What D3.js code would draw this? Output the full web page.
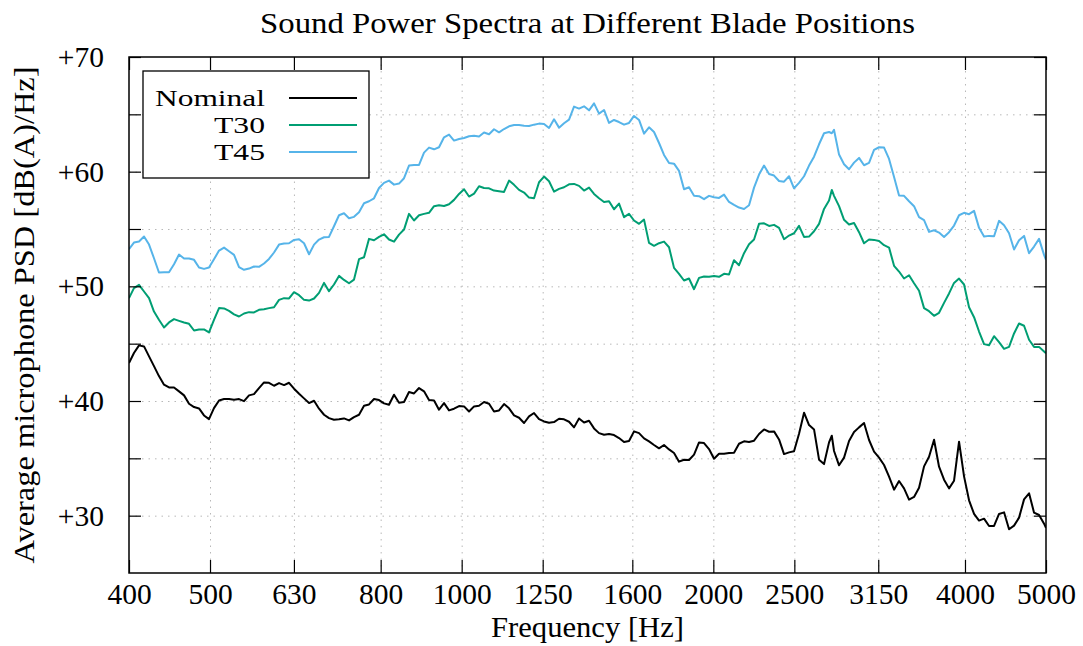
<!DOCTYPE html>
<html><head><meta charset="utf-8">
<script src="https://cdn.jsdelivr.net/npm/d3@7"></script>
<style>
html,body{margin:0;padding:0;background:#fff;}
svg{display:block;}
svg text{font-family:"Liberation Serif","Times New Roman",serif !important;fill:#000;}
</style></head><body>
<svg id="chart" width="1083" height="646"></svg>
<script>
// Frequencies (Hz) at which the curves were read
const freqs = [400,405.5,411.2,416.9,422.7,428.5,434.4,440.5,446.6,452.8,459.1,465.5,471.9,478.5,485.1,491.8,498.6,505.5,512.6,519.7,526.9,534.2,541.6,549.1,556.7,564.4,572.2,580.2,588.2,596.4,604.7,613.1,621.6,630.2,639.0,647.8,656.8,665.9,675.1,684.5,693.9,703.5,713.3,723.2,733.2,743.4,753.7,764.2,774.8,785.5,796.4,807.4,818.6,830.0,841.5,853.2,865.0,877.0,889.2,901.5,914.0,926.7,939.5,952.6,965.8,979.2,992.8,1006.6,1020.5,1034.7,1049.0,1063.5,1078.3,1093.2,1108.4,1123.8,1139.4,1155.2,1171.2,1187.5,1203.9,1220.6,1237.5,1254.7,1272.1,1289.7,1307.6,1325.7,1344.1,1362.7,1381.6,1400.8,1420.2,1439.9,1459.9,1480.1,1500.6,1521.4,1542.5,1563.9,1585.6,1607.6,1629.9,1652.5,1675.4,1698.6,1722.2,1746.0,1770.3,1794.8,1819.7,1844.9,1870.5,1896.5,1922.8,1949.4,1976.4,2003.9,2031.6,2059.8,2088.4,2117.4,2146.7,2176.5,2206.7,2237.3,2268.3,2299.8,2331.7,2364.0,2396.8,2430.0,2463.7,2497.9,2532.5,2567.7,2603.3,2639.4,2676.0,2713.1,2750.7,2771.7,2788.8,2827.6,2866.8,2906.5,2946.8,2987.7,3029.1,3071.1,3113.7,3156.9,3200.7,3245.1,3290.1,3335.7,3381.9,3428.8,3476.4,3524.6,3573.5,3623.0,3673.3,3724.2,3775.9,3828.2,3881.3,3935.1,3989.7,4045.0,4101.2,4158.0,4215.7,4274.1,4333.4,4393.5,4454.4,4516.2,4578.8,4642.3,4706.7,4772.0,4838.2,4905.3,4973.3,5000];

// Average microphone PSD, dB(A)/Hz
const nominal = [43.31,44.18,44.85,44.76,43.89,43.04,42.17,41.42,41.18,41.18,40.84,40.49,39.76,39.47,39.35,38.74,38.42,39.38,40.05,40.17,40.17,40.11,40.17,39.99,40.49,40.60,41.13,41.62,41.59,41.33,41.56,41.39,41.59,41.07,40.63,40.23,39.82,40.02,39.33,38.80,38.51,38.37,38.40,38.48,38.31,38.60,38.80,39.59,
39.70,40.17,40.08,39.79,39.67,40.55,39.85,39.91,40.78,40.66,41.13,40.84,40.08,40.05,39.24,39.82,39.18,39.33,39.56,39.53,39.09,39.53,39.59,39.91,39.76,39.09,39.18,39.73,39.36,38.74,38.54,38.08,38.66,38.95,38.42,38.22,38.10,38.16,38.45,38.40,38.19,37.70,38.48,38.13,38.28,37.61,
37.20,37.06,37.12,37.03,36.77,36.42,36.51,37.35,37.20,36.74,36.48,36.16,35.87,36.16,35.78,35.46,34.71,34.88,34.85,35.32,36.39,36.33,35.81,34.97,35.40,35.40,35.46,35.49,36.27,36.48,36.42,36.54,37.12,37.52,37.32,37.35,36.65,35.37,35.52,35.61,37.15,38.98,37.90,37.52,34.88,34.50,
36.39,36.97,35.64,34.39,35.06,36.51,37.29,37.70,38.08,36.60,35.58,35.06,34.42,33.40,32.27,33.02,32.38,31.40,31.63,32.44,34.30,35.14,36.62,34.27,33.14,32.38,33.05,36.45,33.43,31.34,30.15,29.57,29.74,29.10,29.10,30.15,30.29,28.81,29.13,29.83,31.42,31.95,30.26,30.06,29.30,28.93];

const t30 = [48.97,49.84,50.13,49.55,48.97,47.80,47.08,46.41,46.85,47.14,46.99,46.85,46.73,46.15,46.24,46.24,45.98,47.08,48.10,48.07,47.86,47.55,47.37,47.63,47.75,47.72,47.95,48.01,48.10,48.18,48.82,48.97,48.94,49.49,49.23,48.82,48.76,48.94,49.43,50.30,49.58,50.16,50.91,50.56,50.27,50.59,52.37,52.54,
54.14,54.02,54.31,54.54,54.08,53.90,54.51,54.95,56.32,55.74,56.20,56.32,56.41,56.99,57.07,57.01,57.16,57.54,58.06,58.47,57.83,58.09,58.73,58.58,58.55,58.35,58.29,58.23,59.22,58.85,58.41,58.18,57.74,57.68,59.08,59.57,59.16,58.26,58.50,58.64,58.90,58.93,58.76,58.35,58.61,58.06,
57.68,57.36,57.42,56.72,57.22,56.03,56.32,55.74,55.45,55.82,53.79,53.53,53.76,53.90,53.41,51.61,51.09,50.51,50.68,49.75,50.74,50.86,50.83,50.91,50.83,51.09,51.03,52.28,51.84,52.89,53.67,54.08,55.45,55.50,55.27,55.36,55.10,54.11,54.43,54.63,55.27,54.31,54.34,54.80,55.45,56.75,
57.48,58.41,57.89,56.99,55.80,55.39,55.53,54.72,53.76,54.08,54.05,53.96,53.59,53.38,51.79,51.29,50.68,50.97,50.27,49.61,48.10,47.83,47.43,47.69,48.56,49.38,50.30,50.68,50.16,48.18,47.31,46.06,44.96,44.87,45.65,45.13,44.55,44.72,45.89,46.76,46.56,45.34,44.72,44.72,44.32,44.17];

const t45 = [53.24,53.82,53.91,54.34,53.64,52.45,51.21,51.23,51.23,51.93,52.77,52.42,52.42,52.31,51.64,51.52,51.64,52.36,53.12,53.38,53.06,52.74,51.67,51.44,51.55,51.73,51.70,51.99,52.39,52.95,53.64,53.73,53.76,54.05,54.11,53.76,52.80,53.64,54.08,54.28,54.31,55.24,56.20,56.37,55.94,56.06,56.46,57.25,
57.42,57.68,58.58,59.02,59.22,58.87,58.96,59.43,60.53,60.59,60.59,61.66,62.10,61.95,62.13,63.00,63.23,62.71,62.85,62.94,63.09,63.14,63.06,63.41,63.26,63.70,63.43,63.72,63.96,64.07,64.07,64.01,63.99,64.10,64.19,64.16,63.81,64.57,63.84,64.22,64.54,65.67,65.50,65.70,65.35,65.96,
65.06,65.38,64.25,64.51,64.33,64.10,64.25,64.86,64.51,63.32,63.87,63.46,62.50,61.46,60.76,60.70,60.07,58.47,58.64,57.89,57.86,57.60,57.89,57.77,57.71,58.00,57.36,57.10,56.87,56.75,57.07,58.61,59.75,60.53,59.80,59.66,59.19,59.13,59.60,58.55,59.02,59.60,60.53,61.31,62.39,63.35,
63.46,63.35,63.64,61.49,60.65,60.21,60.79,61.20,60.56,60.76,61.90,62.13,62.10,61.11,59.54,57.92,57.89,57.42,56.99,56.03,55.77,54.75,54.89,54.69,54.31,54.72,55.30,56.20,56.41,56.29,56.58,55.10,54.34,54.40,54.37,55.71,55.33,54.63,53.21,54.02,54.40,52.89,53.47,54.14,52.74,52.31];

const seriesNames = ["Nominal", "T30", "T45"];
const seriesColors = ["#000000", "#009e73", "#56b4e9"];
const xTickValues = [400, 500, 630, 800, 1000, 1250, 1600, 2000, 2500, 3150, 4000, 5000];
const yTickValues = [30, 35, 40, 45, 50, 55, 60, 65, 70];
const yLabelValues = [30, 40, 50, 60, 70];
const titleText = "Sound Power Spectra at Different Blade Positions";
const xLabelText = "Frequency [Hz]";
const yLabelText = "Average microphone PSD [dB(A)/Hz]";

const FONT = '"Liberation Serif","Times New Roman",serif';
const svg = d3.select("#chart");
const L = 129, R = 1046, T = 57, B = 573;
const x = d3.scaleLog().domain([400, 5000]).range([L, R]);
const y = d3.scaleLinear().domain([25, 70]).range([B, T]);

svg.append("rect").attr("width", 1083).attr("height", 646).attr("fill", "#fff");

// grid
const gridColor = "#b8b8b8";
const gx = svg.append("g").attr("transform", `translate(0,${B})`)
  .call(d3.axisBottom(x).tickValues(xTickValues.slice(1, -1)).tickSize(-(B - T)).tickFormat(""));
const gy = svg.append("g").attr("transform", `translate(${L},0)`)
  .call(d3.axisLeft(y).tickValues(yTickValues.slice(0, -1)).tickSize(-(R - L)).tickFormat(""));
[gx, gy].forEach(g => {
  g.select(".domain").remove();
  g.selectAll("line").attr("stroke", gridColor).attr("stroke-width", 1).attr("stroke-dasharray", "1.5,5");
});

// curves
const datasets = [nominal, t30, t45];
const line = d3.line().x(d => x(d[0])).y(d => y(d[1]));
svg.append("defs").append("clipPath").attr("id", "clip")
  .append("rect").attr("x", L).attr("y", T).attr("width", R - L).attr("height", B - T);
const curves = svg.append("g").attr("clip-path", "url(#clip)");
datasets.forEach((vals, i) => {
  curves.append("path")
    .datum(freqs.map((f, j) => [f, vals[j]]))
    .attr("fill", "none").attr("stroke", seriesColors[i])
    .attr("stroke-width", 2).attr("stroke-linejoin", "round")
    .attr("d", line);
});

// axes with ticks
const fontSize = 29.5;
const ax = svg.append("g").attr("transform", `translate(0,${B})`)
  .call(d3.axisBottom(x).tickValues(xTickValues).tickSize(-13).tickPadding(10).tickFormat(d3.format("d")));
const axTop = svg.append("g").attr("transform", `translate(0,${T})`)
  .call(d3.axisTop(x).tickValues(xTickValues).tickSize(-13).tickFormat(""));
const ay = svg.append("g").attr("transform", `translate(${L},0)`)
  .call(d3.axisLeft(y).tickValues(yTickValues).tickSize(-12).tickPadding(25)
    .tickFormat(d => yLabelValues.includes(d) ? "+" + d : ""));
const ayR = svg.append("g").attr("transform", `translate(${R},0)`)
  .call(d3.axisRight(y).tickValues(yTickValues).tickSize(-12).tickFormat(""));
[ax, axTop, ay, ayR].forEach(g => {
  g.attr("font-family", FONT).attr("font-size", fontSize);
  g.select(".domain").remove();
  g.selectAll("line").attr("stroke", "#000").attr("stroke-width", 1.2);
  g.selectAll("text").attr("font-family", FONT).attr("font-size", fontSize).attr("fill", "#000");
});

// frame
svg.append("rect").attr("x", L).attr("y", T).attr("width", R - L).attr("height", B - T)
  .attr("fill", "none").attr("stroke", "#000").attr("stroke-width", 1.5);

// legend
const lg = svg.append("g");
lg.append("rect").attr("x", 143).attr("y", 71).attr("width", 226).attr("height", 107)
  .attr("fill", "#fff").attr("stroke", "#000").attr("stroke-width", 1.3);
const legendWidths = [110, 51, 51];
seriesNames.forEach((name, i) => {
  const ly = 98 + i * 27;
  lg.append("text").attr("x", 265).attr("y", ly + 8).attr("text-anchor", "end")
    .attr("font-family", FONT).attr("font-size", 24)
    .attr("textLength", legendWidths[i]).attr("lengthAdjust", "spacingAndGlyphs").text(name);
  lg.append("line").attr("x1", 289).attr("x2", 357).attr("y1", ly).attr("y2", ly)
    .attr("stroke", seriesColors[i]).attr("stroke-width", 2);
});

// title and axis labels
svg.append("text").attr("x", 587.5).attr("y", 33).attr("text-anchor", "middle")
  .attr("font-family", FONT).attr("font-size", fontSize)
  .attr("textLength", 655).attr("lengthAdjust", "spacingAndGlyphs").text(titleText);
svg.append("text").attr("x", 587.5).attr("y", 637).attr("text-anchor", "middle")
  .attr("font-family", FONT).attr("font-size", fontSize)
  .attr("textLength", 193).attr("lengthAdjust", "spacingAndGlyphs").text(xLabelText);
svg.append("text").attr("transform", `translate(34,315) rotate(-90)`).attr("text-anchor", "middle")
  .attr("font-family", FONT).attr("font-size", fontSize)
  .attr("textLength", 497).attr("lengthAdjust", "spacingAndGlyphs").text(yLabelText);
</script>
</body></html>
